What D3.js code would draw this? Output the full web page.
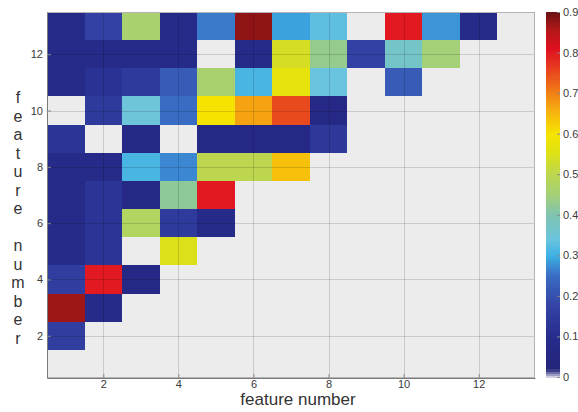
<!DOCTYPE html>
<html>
<head>
<meta charset="utf-8">
<script src="https://cdn.jsdelivr.net/npm/d3@7"></script>
<style>
  body { margin: 0; background: #ffffff; }
  svg { display: block; }
</style>
</head>
<body>
<svg id="mySVG" width="578" height="412"></svg>
<script>
// feature indices on both axes
var features = d3.range(1, 14)
var tickVals = [2, 4, 6, 8, 10, 12]
var cbarTicks = [0, 0.1, 0.2, 0.3, 0.4, 0.5, 0.6, 0.7, 0.8, 0.9]

// one row per y feature, listed from the top (13) down to 1, columns = x feature 1..13
var rowFeature = [13, 12, 11, 10, 9, 8, 7, 6, 5, 4, 3, 2, 1]
var row13 = [0.09, 0.17, 0.46, 0.08, 0.26, 0.88, 0.29, 0.33, 0, 0.80, 0.28, 0.09, 0]
var row12 = [0.08, 0.08, 0.08, 0.08, 0, 0.08, 0.54, 0.43, 0.17, 0.37, 0.45, 0, 0]
var row11 = [0.09, 0.12, 0.15, 0.22, 0.46, 0.31, 0.57, 0.34, 0, 0.22, 0, 0, 0]
var row10 = [0, 0.15, 0.35, 0.25, 0.60, 0.67, 0.75, 0.07, 0, 0, 0, 0, 0]
var row9  = [0.13, 0, 0.07, 0, 0.07, 0.07, 0.07, 0.14, 0, 0, 0, 0, 0]
var row8  = [0.08, 0.08, 0.31, 0.27, 0.50, 0.50, 0.64, 0, 0, 0, 0, 0, 0]
var row7  = [0.08, 0.13, 0.07, 0.42, 0.80, 0, 0, 0, 0, 0, 0, 0, 0]
var row6  = [0.08, 0.13, 0.48, 0.15, 0.08, 0, 0, 0, 0, 0, 0, 0, 0]
var row5  = [0.08, 0.13, 0, 0.55, 0, 0, 0, 0, 0, 0, 0, 0, 0]
var row4  = [0.16, 0.80, 0.07, 0, 0, 0, 0, 0, 0, 0, 0, 0, 0]
var row3  = [0.87, 0.08, 0, 0, 0, 0, 0, 0, 0, 0, 0, 0, 0]
var row2  = [0.16, 0, 0, 0, 0, 0, 0, 0, 0, 0, 0, 0, 0]
var row1  = [0, 0, 0, 0, 0, 0, 0, 0, 0, 0, 0, 0, 0]
var rows = [row13, row12, row11, row10, row9, row8, row7, row6, row5, row4, row3, row2, row1]

// muted jet-like colormap as seen in the colorbar
var cmapStops  = [0, 0.02, 0.10, 0.18, 0.25, 0.30, 0.34, 0.40, 0.45, 0.50, 0.56, 0.60, 0.66, 0.72, 0.77, 0.81, 0.86, 0.90]
var cmapColors = ["#e6e6f2", "#24247a", "#262c8c", "#3444a6", "#3a6cc4", "#3cb0e4", "#6ac4e0", "#80c4b0",
                  "#a4d078", "#bcd650", "#e2e210", "#f6e400", "#f6ae10", "#ee6c18", "#e63420", "#e01020",
                  "#b01818", "#6c1014"]

var MySVG = d3.select("#mySVG")
var FONT = "Liberation Sans, Arial, sans-serif"

//---plot edges (not "top": that name is taken by window.top)---
var plotL = 47, plotR = 535, plotT = 12, plotB = 378

var x = d3.scaleLinear().domain([0.5, 13.5]).range([plotL, plotR])
var y = d3.scaleLinear().domain([0.5, 13.5]).range([plotB, plotT])
var color = d3.scaleLinear().domain(cmapStops).range(cmapColors).clamp(true)

//---plot background---
MySVG.append("rect")
  .attr("x", plotL).attr("y", plotT)
  .attr("width", plotR - plotL).attr("height", plotB - plotT)
  .attr("fill", "#ececec")

//---cells---
var cells = []
rows.forEach(function(r, i) {
  r.forEach(function(v, j) {
    if (v > 0) cells.push({ fx: features[j], fy: rowFeature[i], v: v })
  })
})
MySVG.append("g")
  .attr("shape-rendering", "crispEdges")
  .selectAll("rect")
  .data(cells)
  .enter().append("rect")
  .attr("x", function(d) { return x(d.fx - 0.5) })
  .attr("y", function(d) { return y(d.fy + 0.5) })
  .attr("width", function(d) { return x(d.fx + 0.5) - x(d.fx - 0.5) })
  .attr("height", function(d) { return y(d.fy - 0.5) - y(d.fy + 0.5) })
  .attr("fill", function(d) { return color(d.v) })

//---grid on top, faint---
var gridG = MySVG.append("g").attr("stroke", "#000").attr("stroke-opacity", 0.14).attr("stroke-width", 1)
gridG.selectAll(".gx").data(tickVals).enter().append("line")
  .attr("x1", function(d) { return Math.round(x(d)) + 0.5 })
  .attr("x2", function(d) { return Math.round(x(d)) + 0.5 })
  .attr("y1", plotT).attr("y2", plotB)
gridG.selectAll(".gy").data(tickVals).enter().append("line")
  .attr("y1", function(d) { return Math.round(y(d)) + 0.5 })
  .attr("y2", function(d) { return Math.round(y(d)) + 0.5 })
  .attr("x1", plotL).attr("x2", plotR)

//---box---
MySVG.append("rect")
  .attr("x", plotL + 0.5).attr("y", plotT + 0.5)
  .attr("width", plotR - plotL - 1).attr("height", plotB - plotT - 1)
  .attr("fill", "none").attr("stroke", "#b4b4b4")

//---axes---
var xAxis = MySVG.append("g")
  .attr("transform", "translate(0," + plotB + ")")
  .call(d3.axisBottom(x).tickValues(tickVals).tickSize(-4).tickPadding(2).tickSizeOuter(0))
var yAxis = MySVG.append("g")
  .attr("transform", "translate(" + plotL + ",0)")
  .call(d3.axisLeft(y).tickValues(tickVals).tickSize(-4).tickPadding(4).tickSizeOuter(0))
;[xAxis, yAxis].forEach(function(a) {
  a.select(".domain").attr("stroke", "#7a7a7a")
  a.selectAll(".tick line").attr("stroke", "#8a8a8a")
  a.selectAll("text").attr("font-family", FONT).attr("font-size", 11).attr("fill", "#3a3a3a")
})

//---axis labels---
MySVG.append("text")
  .attr("x", 298).attr("y", 405)
  .attr("text-anchor", "middle")
  .attr("font-family", FONT).attr("font-size", 17)
  .attr("fill", "#333")
  .text("feature number")

var yLab = MySVG.append("text")
  .attr("font-family", FONT).attr("font-size", 16)
  .attr("fill", "#333")
  .attr("text-anchor", "middle")
"feature number".split("").forEach(function(ch, i) {
  yLab.append("tspan")
    .attr("x", 18)
    .attr("y", 103 + i * 18.5)
    .text(ch === " " ? "\u00a0" : ch)
})

//---colorbar---
var cbX = 546, cbW = 14
var cbY = d3.scaleLinear().domain([0, 0.9]).range([377, 12])
var slices = d3.range(0, 0.9, 0.005)
MySVG.append("g")
  .attr("shape-rendering", "crispEdges")
  .selectAll("rect")
  .data(slices)
  .enter().append("rect")
  .attr("x", cbX).attr("width", cbW)
  .attr("y", function(d) { return cbY(d + 0.005) })
  .attr("height", function(d) { return cbY(d) - cbY(d + 0.005) + 0.6 })
  .attr("fill", function(d) { return color(d + 0.0025) })

var cbAxis = MySVG.append("g")
  .attr("transform", "translate(" + (cbX + cbW) + ",0)")
  .call(d3.axisRight(cbY).tickValues(cbarTicks).tickFormat(d3.format("")).tickSize(-3).tickPadding(3).tickSizeOuter(0))
cbAxis.select(".domain").remove()
cbAxis.selectAll(".tick line").attr("stroke", "#888")
cbAxis.selectAll("text").attr("font-family", FONT).attr("font-size", 11).attr("fill", "#3a3a3a")
</script>
</body>
</html>
